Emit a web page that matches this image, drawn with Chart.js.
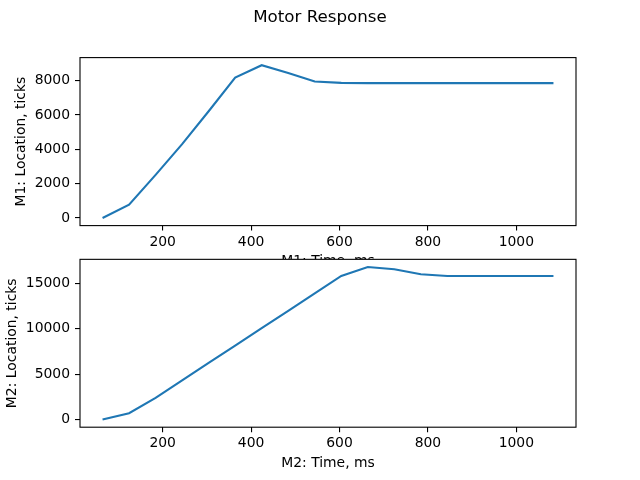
<!DOCTYPE html>
<html lang="en">
<head>
    <meta charset="UTF-8">
    <title>Motor Response</title>
    <script src="https://cdn.jsdelivr.net/npm/chart.js"></script>
    <style>
        body { margin: 0; background: #fff; }
        #top { position: absolute; left: 0; top: 0; width: 640px; height: 259px; overflow: hidden; }
        #c1 { position: absolute; left: 0; top: 0; }
        #c2 { position: absolute; left: 0; top: 246px; }
    </style>
</head>
<body>
    <div id="top"><canvas id="c1" width="640" height="280"></canvas></div>
    <canvas id="c2" width="640" height="234"></canvas>

    <script>
        // time in ms, same for both motors
        let timeMs = [64, 124, 184, 244, 304, 364, 424, 484, 544, 604, 664, 724, 784, 844, 904, 964, 1024, 1084];
        let m1Ticks = [0, 775, 2510, 4300, 6220, 8180, 8900, 8450, 7950, 7870, 7860, 7860, 7860, 7860, 7860, 7860, 7860, 7860];
        let m2Ticks = [0, 700, 2400, 4320, 6240, 8160, 10070, 11990, 13910, 15830, 16820, 16570, 16020, 15830, 15830, 15830, 15830, 15830];

        // axis tick labels
        let xTickVals = [200, 400, 600, 800, 1000];
        let y1TickVals = [0, 2000, 4000, 6000, 8000];
        let y2TickVals = [0, 5000, 10000, 15000];

        const FONT = "'DejaVu Sans', sans-serif";
        const tickFont = { family: FONT, size: 13.9 };

        // draws the full frame round the plot area
        const frame = {
            id: "frame",
            afterDraw(chart) {
                let a = chart.chartArea, ctx = chart.ctx;
                ctx.save();
                ctx.strokeStyle = "#000";
                ctx.lineWidth = 1.1;
                ctx.strokeRect(a.left, a.top, a.right - a.left, a.bottom - a.top);
                ctx.restore();
            }
        };

        // figure title, centred on the whole canvas
        const supTitle = {
            id: "supTitle",
            afterDraw(chart, args, o) {
                if (!o.text) return;
                let ctx = chart.ctx;
                ctx.save();
                ctx.fillStyle = "#000";
                ctx.font = "16.7px " + FONT;
                ctx.textAlign = "center";
                ctx.textBaseline = "middle";
                ctx.fillText(o.text, chart.width / 2, 18);
                ctx.restore();
            }
        };

        function points(ys) {
            return timeMs.map((t, i) => ({ x: t, y: ys[i] }));
        }

        function useTicks(vals) {
            return s => { s.ticks = vals.map(v => ({ value: v })); };
        }

        function makeChart(id, ys, opts) {
            return new Chart(document.getElementById(id), {
                type: "line",
                data: {
                    datasets: [{
                        data: points(ys),
                        borderColor: "#1f77b4",
                        borderWidth: 2.1,
                        pointRadius: 0,
                        tension: 0,
                        fill: false
                    }]
                },
                options: {
                    responsive: false,
                    animation: false,
                    devicePixelRatio: 1,
                    layout: { padding: opts.padding },
                    plugins: {
                        legend: { display: false },
                        tooltip: { enabled: false },
                        title: { display: false },
                        supTitle: { text: opts.supTitle }
                    },
                    scales: {
                        x: {
                            type: "linear",
                            min: 13, max: 1135,
                            afterBuildTicks: useTicks(xTickVals),
                            afterFit: s => { s.height = opts.xHeight; },
                            grid: { drawOnChartArea: false, drawTicks: true, tickLength: 5, color: "#000", lineWidth: 1.1 },
                            border: { display: false },
                            ticks: { color: "#000", font: tickFont, padding: 3, maxRotation: 0, callback: v => String(v) },
                            title: { display: true, text: opts.xTitle, color: "#000", font: tickFont, padding: { top: 0, bottom: opts.xTitlePad } }
                        },
                        y: {
                            min: opts.yMin, max: opts.yMax,
                            afterBuildTicks: useTicks(opts.yTicks),
                            afterFit: s => { s.width = 80; },
                            grid: { drawOnChartArea: false, drawTicks: true, tickLength: 5, color: "#000", lineWidth: 1.1 },
                            border: { display: false },
                            ticks: { color: "#000", font: tickFont, padding: 5, callback: v => String(v) },
                            title: { display: true, text: opts.yTitle, color: "#000", font: tickFont, padding: { top: opts.yTitlePad, bottom: 0 } }
                        }
                    }
                },
                plugins: [frame, supTitle]
            });
        }

        makeChart("c1", m1Ticks, {
            padding: { left: 0, right: 64, top: 57.6, bottom: 0 },
            supTitle: "Motor Response",
            xHeight: 54.4, xTitle: "M1: Time, ms", xTitlePad: 10.3,
            yMin: -445, yMax: 9345, yTicks: y1TickVals,
            yTitle: "M1: Location, ticks", yTitlePad: 13
        });

        makeChart("c2", m2Ticks, {
            padding: { left: 0, right: 64, top: 13.2, bottom: 0 },
            supTitle: "",
            xHeight: 52.8, xTitle: "M2: Time, ms", xTitlePad: 8.7,
            yMin: -841, yMax: 17661, yTicks: y2TickVals,
            yTitle: "M2: Location, ticks", yTitlePad: 4.5
        });
    </script>
</body>
</html>
